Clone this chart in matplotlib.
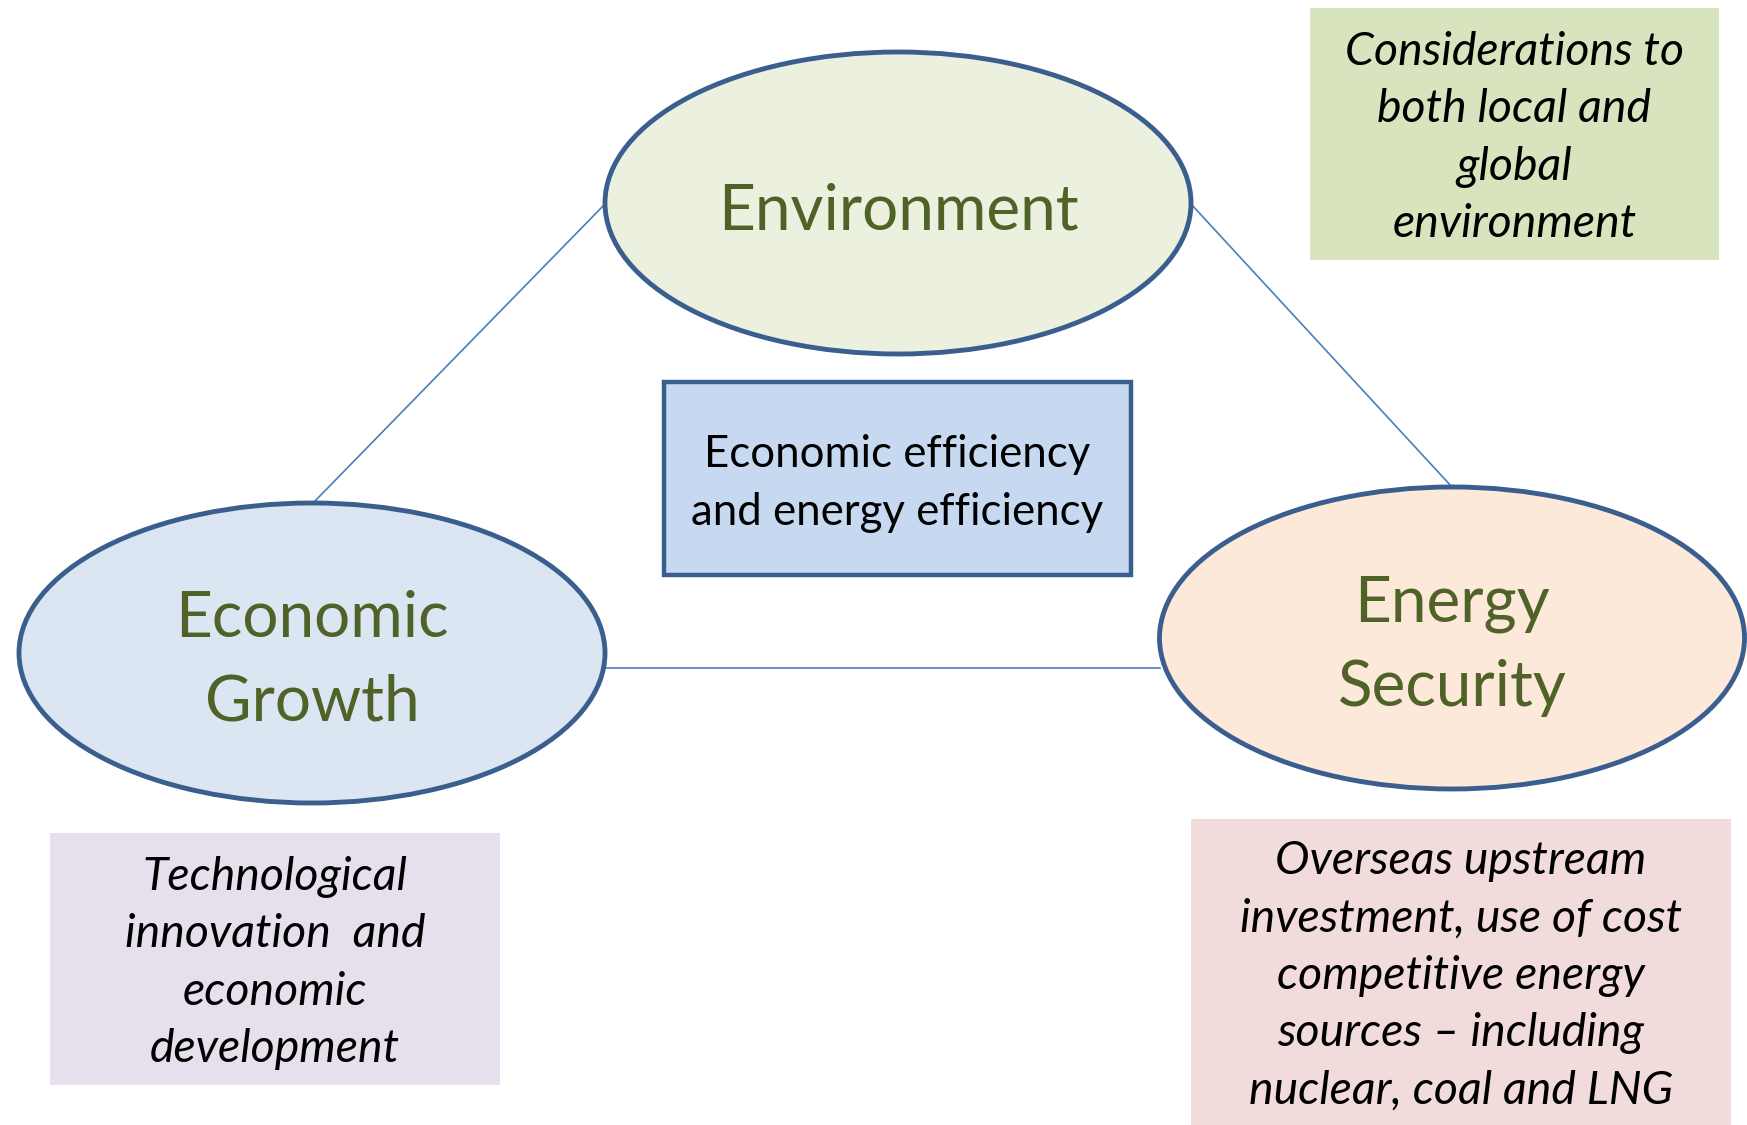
import matplotlib
matplotlib.use("Agg")
import matplotlib.pyplot as plt
from matplotlib.patches import Ellipse, Rectangle

plt.rcParams['font.family'] = ['Lato', 'DejaVu Sans']

W, H = 1747, 1125

# three pillars (ellipses): label, centre, size, fill
pillar_labels = ["Environment", "Economic\nGrowth", "Energy\nSecurity"]
pillar_centres = [(898, 203), (312, 653), (1452, 638)]
pillar_sizes = [(586, 302), (586, 300), (585, 302)]
pillar_fills = ["#ebf1de", "#dce6f2", "#fde9d9"]

# note boxes: text, (x0, y0, x1, y1), fill
note_texts = [
    "Considerations to\nboth local and\nglobal\nenvironment",
    "Technological\ninnovation  and\neconomic\ndevelopment",
    "Overseas upstream\ninvestment, use of cost\ncompetitive energy\nsources \u2013 including\nnuclear, coal and LNG",
]
note_boxes = [(1310, 8, 1719, 260), (50, 833, 500, 1085), (1191, 819, 1731, 1125)]
note_fills = ["#d7e4bd", "#e6e0ec", "#f2dcdb"]

centre_text = "Economic efficiency\nand energy efficiency"
centre_box = (664, 382, 1131, 575)
centre_fill = "#c6d9f1"

# connecting lines between the ellipses
links = [((605, 204), (315, 501)), ((1191, 204), (1452, 487)), ((605, 668), (1160, 668))]

edge = "#3a5f8f"
green = "#4f6228"

fig = plt.figure(figsize=(W / 100, H / 100), dpi=100)
ax = fig.add_axes([0, 0, 1, 1])
ax.set_xlim(0, W)
ax.set_ylim(H, 0)
ax.axis('off')

for (p0, p1) in links:
    ax.plot([p0[0], p1[0]], [p0[1], p1[1]], color="#4a7ebb", lw=1.2, zorder=1)

for lab, c, s, f in zip(pillar_labels, pillar_centres, pillar_sizes, pillar_fills):
    ax.add_patch(Ellipse(c, s[0], s[1], facecolor=f, edgecolor=edge, lw=3.5, zorder=2))
    ax.text(c[0], c[1] + 8, lab, ha='center', va='center', fontsize=46,
            color=green, linespacing=1.54, zorder=3)

x0, y0, x1, y1 = centre_box
ax.add_patch(Rectangle((x0, y0), x1 - x0, y1 - y0, facecolor=centre_fill,
                       edgecolor=edge, lw=3.2, zorder=2))
ax.text((x0 + x1) / 2, (y0 + y1) / 2 + 5, centre_text, ha='center', va='center',
        fontsize=31.5, color='black', linespacing=1.5, zorder=3)

for t, b, f in zip(note_texts, note_boxes, note_fills):
    x0, y0, x1, y1 = b
    ax.add_patch(Rectangle((x0, y0), x1 - x0, y1 - y0, facecolor=f, edgecolor='none', zorder=2))
    ax.text((x0 + x1) / 2, (y0 + y1) / 2 + 4, t, ha='center', va='center',
            fontsize=33.4, style='italic', color='black', linespacing=1.455, zorder=3)

fig.savefig("out.png", dpi=100)
